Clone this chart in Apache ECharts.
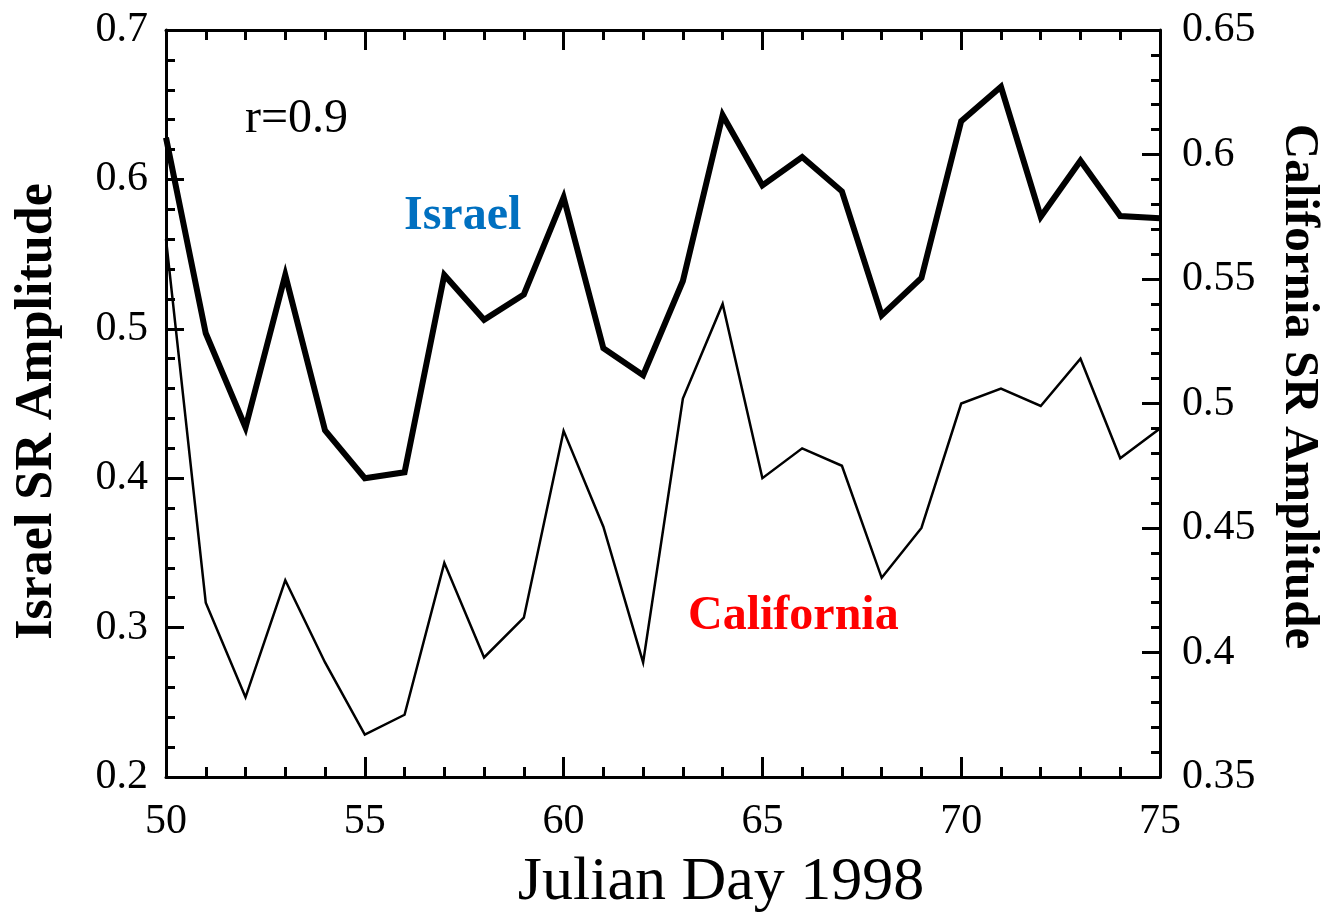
<!DOCTYPE html>
<html>
<head>
<meta charset="utf-8">
<script src="https://cdn.jsdelivr.net/npm/echarts@6/dist/echarts.min.js"></script>
<style>
html, body { margin: 0; padding: 0; background: #fff; }
#chart { width: 1328px; height: 912px; }
</style>
</head>
<body>
<div id="chart"></div>
<script>
// julian days
var days = [50, 51, 52, 53, 54, 55, 56, 57, 58, 59, 60, 61, 62, 63, 64, 65, 66, 67, 68, 69, 70, 71, 72, 73, 74, 75];
// Israel SR amplitude (left axis)
var israel = [0.628, 0.497, 0.434, 0.536, 0.432, 0.400, 0.404, 0.536, 0.506, 0.523, 0.588, 0.487, 0.469, 0.532,
	0.643, 0.596, 0.615, 0.592, 0.509, 0.534, 0.639, 0.662, 0.575, 0.6125, 0.5755, 0.574];
// California SR amplitude (right axis)
var california = [0.566, 0.420, 0.382, 0.429, 0.396, 0.367, 0.375, 0.436, 0.398, 0.414, 0.489, 0.4505, 0.396, 0.502,
	0.540, 0.470, 0.482, 0.475, 0.430, 0.450, 0.500, 0.506, 0.499, 0.518, 0.478, 0.490];

var FONT = "'Liberation Serif', 'DejaVu Serif', serif";

var pairs = function (vals) {
	return days.map(function (d, i) {
		return [d, vals[i]];
	});
};

var chart = echarts.init(document.getElementById("chart"));

var tickStyle = { color: "#000", width: 3 };

var option = {
	backgroundColor: "#fff",
	animation: false,
	grid: {
		left: 166,
		right: 168,
		top: 30,
		bottom: 135,
		outerBoundsMode: "none" // keep the plot box fixed, names may sit near the edge
	},
	xAxis: [
		{
			type: "value",
			min: 50,
			max: 75,
			interval: 5,
			name: "Julian Day 1998",
			nameLocation: "middle",
			nameGap: 75,
			// title sits right of centre in the original
			nameTextStyle: { fontFamily: FONT, fontSize: 62, color: "#000", padding: [0, 0, 0, 116] },
			axisLine: { lineStyle: { color: "#000", width: 3 } },
			axisTick: { inside: true, length: 20, lineStyle: tickStyle },
			minorTick: { show: true, splitNumber: 5, length: 10, lineStyle: tickStyle },
			axisLabel: { margin: 24, fontFamily: FONT, fontSize: 42, color: "#000" },
			splitLine: { show: false }
		},
		{
			type: "value",
			position: "top",
			min: 50,
			max: 75,
			interval: 5,
			axisLine: { lineStyle: { color: "#000", width: 3 } },
			axisTick: { inside: true, length: 20, lineStyle: tickStyle },
			minorTick: { show: true, splitNumber: 5, length: 10, lineStyle: tickStyle },
			axisLabel: { show: false },
			splitLine: { show: false }
		}
	],
	yAxis: [
		{
			type: "value",
			min: 0.2,
			max: 0.7,
			interval: 0.1,
			name: "Israel SR Amplitude",
			nameLocation: "middle",
			nameRotate: 90,
			nameGap: 102,
			nameTextStyle: { fontFamily: FONT, fontSize: 52, fontWeight: "bold", color: "#000", padding: [0, 16, 0, 0] },
			axisLine: { show: true, lineStyle: { color: "#000", width: 3 } },
			axisTick: { show: true, inside: true, length: 18, lineStyle: tickStyle },
			minorTick: { show: true, splitNumber: 5, length: 9, lineStyle: tickStyle },
			axisLabel: { margin: 18, fontFamily: FONT, fontSize: 42, color: "#000" },
			splitLine: { show: false }
		},
		{
			type: "value",
			position: "right",
			min: 0.35,
			max: 0.65,
			interval: 0.05,
			name: "California SR Amplitude",
			nameLocation: "middle",
			nameRotate: -90,
			nameGap: 114,
			nameTextStyle: { fontFamily: FONT, fontSize: 49, fontWeight: "bold", color: "#000", padding: [0, 34, 0, 0] },
			axisLine: { show: true, lineStyle: { color: "#000", width: 3 } },
			axisTick: { show: true, inside: true, length: 18, lineStyle: tickStyle },
			minorTick: { show: true, splitNumber: 5, length: 9, lineStyle: tickStyle },
			axisLabel: { margin: 22, fontFamily: FONT, fontSize: 42, color: "#000" },
			splitLine: { show: false }
		}
	],
	series: [
		{
			name: "Israel",
			type: "line",
			xAxisIndex: 0,
			yAxisIndex: 0,
			data: pairs(israel),
			showSymbol: false,
			lineStyle: { color: "#000", width: 6, join: "miter" },
			z: 3
		},
		{
			name: "California",
			type: "line",
			xAxisIndex: 0,
			yAxisIndex: 1,
			data: pairs(california),
			showSymbol: false,
			lineStyle: { color: "#000", width: 2.5, join: "miter" },
			z: 2
		}
	],
	graphic: [
		{
			type: "text",
			left: 245,
			top: 95,
			style: { text: "r=0.9", font: "48px " + FONT, fill: "#000" }
		},
		{
			type: "text",
			left: 404,
			top: 193,
			style: { text: "Israel", font: "bold 48px " + FONT, fill: "#0070C0" }
		},
		{
			type: "text",
			left: 688,
			top: 593,
			style: { text: "California", font: "bold 48px " + FONT, fill: "#FF0000" }
		}
	]
};

chart.setOption(option);
</script>
</body>
</html>
